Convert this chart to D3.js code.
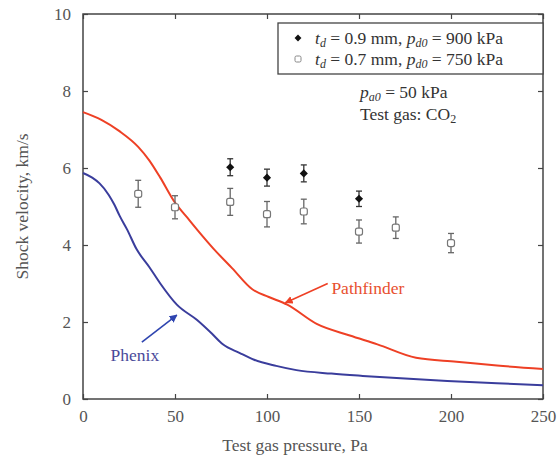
<!DOCTYPE html>
<html>
<head>
<meta charset="utf-8">
<script src="https://cdn.jsdelivr.net/npm/d3@7"></script>
<style>
  body { margin: 0; background: #fff; }
  svg { font-family: "Liberation Serif", "DejaVu Serif", serif; }
</style>
</head>
<body>
<svg width="559" height="461"></svg>
<script>
// Pathfinder (red) and Phenix (blue) computed curves
const pathfinderX = [0, 10, 20, 30, 36, 42, 50, 56, 62, 71, 81, 92, 101, 111, 127, 145, 160, 181, 203, 225, 250];
const pathfinderY = [7.45, 7.25, 6.95, 6.55, 6.2, 5.75, 5.1, 4.75, 4.4, 3.9, 3.4, 2.85, 2.65, 2.45, 1.95, 1.65, 1.42, 1.07, 0.97, 0.87, 0.78];
const phenixX = [0, 5, 9, 14, 17, 20, 24, 29, 36, 42, 51, 62, 70, 76, 85, 93, 105, 116, 135, 152, 175, 198, 225, 250];
const phenixY = [5.87, 5.75, 5.6, 5.3, 5.05, 4.75, 4.4, 3.9, 3.43, 3.0, 2.45, 2.05, 1.7, 1.42, 1.2, 1.02, 0.86, 0.75, 0.66, 0.6, 0.53, 0.47, 0.41, 0.36];

// Experiments
const thickX = [80, 100, 120, 150];
const thickY = [6.02, 5.75, 5.86, 5.2];
const thickErr = [0.22, 0.22, 0.22, 0.2];
const thinX = [30, 50, 80, 100, 120, 150, 170, 200];
const thinY = [5.33, 4.98, 5.12, 4.8, 4.87, 4.35, 4.45, 4.05];
const thinErr = [0.35, 0.3, 0.35, 0.33, 0.32, 0.3, 0.28, 0.25];

const xTicks = [0, 50, 100, 150, 200, 250];
const yTicks = [0, 2, 4, 6, 8, 10];

const svg = d3.select('svg');
const padL = 83, padR = 543, padT = 14, padB = 399;

const x = d3.scaleLinear().domain([0, 250]).range([padL, padR]);
const y = d3.scaleLinear().domain([0, 10]).range([padB, padT]);

const labelColor = '#555';
const frameColor = '#444';

// frame
svg.append('rect')
  .attr('x', padL).attr('y', padT)
  .attr('width', padR - padL).attr('height', padB - padT)
  .style('fill', 'none').style('stroke', frameColor).style('stroke-width', 1.5);

// inward ticks on all four sides
svg.append('g').attr('transform', `translate(0,${padB})`)
  .call(d3.axisBottom(x).tickValues(xTicks).tickSize(-5).tickPadding(11).tickFormat(d3.format('d')))
  .call(g => g.select('.domain').remove());
svg.append('g').attr('transform', `translate(0,${padT})`)
  .call(d3.axisTop(x).tickValues(xTicks).tickSize(-5).tickFormat(''))
  .call(g => g.select('.domain').remove());
svg.append('g').attr('transform', `translate(${padL},0)`)
  .call(d3.axisLeft(y).tickValues(yTicks).tickSize(-5).tickPadding(12).tickFormat(d3.format('d')))
  .call(g => g.select('.domain').remove());
svg.append('g').attr('transform', `translate(${padR},0)`)
  .call(d3.axisRight(y).tickValues(yTicks).tickSize(-5).tickFormat(''))
  .call(g => g.select('.domain').remove());

svg.selectAll('.tick line').style('stroke', frameColor).style('stroke-width', 1.2);
svg.selectAll('.tick text')
  .style('font-family', '"Liberation Serif", serif')
  .style('font-size', '17px')
  .style('fill', labelColor);

// axis titles
svg.append('text')
  .attr('x', (padL + padR) / 2 - 18).attr('y', 451)
  .attr('text-anchor', 'middle')
  .style('font-size', '17.5px').style('fill', labelColor)
  .text('Test gas pressure, Pa');
svg.append('text')
  .attr('transform', `translate(28,${(padT + padB) / 2}) rotate(-90)`)
  .attr('text-anchor', 'middle')
  .style('font-size', '17.5px').style('fill', labelColor)
  .text('Shock velocity, km/s');

// curves
const line = d3.line().x(d => x(d[0])).y(d => y(d[1])).curve(d3.curveMonotoneX);
svg.append('path')
  .datum(pathfinderX.map((v, i) => [v, pathfinderY[i]]))
  .attr('d', line)
  .style('fill', 'none').style('stroke', '#ee4025').style('stroke-width', 2);
svg.append('path')
  .datum(phenixX.map((v, i) => [v, phenixY[i]]))
  .attr('d', line)
  .style('fill', 'none').style('stroke', '#3a3d9c').style('stroke-width', 2);

// error bars
function errorBars(xs, ys, es, color) {
  const g = svg.append('g').style('stroke', color).style('stroke-width', 1.3);
  xs.forEach((v, i) => {
    g.append('line').attr('x1', x(v)).attr('x2', x(v)).attr('y1', y(ys[i] - es[i])).attr('y2', y(ys[i] + es[i]));
    g.append('line').attr('x1', x(v) - 3).attr('x2', x(v) + 3).attr('y1', y(ys[i] - es[i])).attr('y2', y(ys[i] - es[i]));
    g.append('line').attr('x1', x(v) - 3).attr('x2', x(v) + 3).attr('y1', y(ys[i] + es[i])).attr('y2', y(ys[i] + es[i]));
  });
}
errorBars(thinX, thinY, thinErr, '#666');
errorBars(thickX, thickY, thickErr, '#333');

svg.append('g').selectAll('rect')
  .data(thinX.map((v, i) => [v, thinY[i]]))
  .join('rect')
  .attr('x', d => x(d[0]) - 3.5).attr('y', d => y(d[1]) - 3.5)
  .attr('width', 7).attr('height', 7).attr('rx', 2)
  .style('fill', '#fff').style('stroke', '#777').style('stroke-width', 1.2);

svg.append('g').selectAll('path')
  .data(thickX.map((v, i) => [v, thickY[i]]))
  .join('path')
  .attr('transform', d => `translate(${x(d[0])},${y(d[1])})`)
  .attr('d', d3.symbol(d3.symbolDiamond2, 42))
  .style('fill', '#111');

// legend
const lg = svg.append('g');
lg.append('rect').attr('x', 278).attr('y', 23).attr('width', padR - 278).attr('height', 51)
  .style('fill', '#fff').style('stroke', frameColor).style('stroke-width', 1.3);
lg.append('path').attr('transform', 'translate(298,38)')
  .attr('d', d3.symbol(d3.symbolDiamond2, 30)).style('fill', '#111');
lg.append('rect').attr('x', 295).attr('y', 56).attr('width', 6).attr('height', 6).attr('rx', 1.5)
  .style('fill', '#fff').style('stroke', '#888');

function legendRow(yy, td, pd) {
  const t = lg.append('text').attr('x', 315).attr('y', yy).style('font-size', '17.5px').style('fill', '#333');
  t.append('tspan').style('font-style', 'italic').text('t');
  t.append('tspan').style('font-style', 'italic').style('font-size', '12px').attr('dy', 3).text('d');
  t.append('tspan').attr('dy', -3).text(` = ${td} mm, `);
  t.append('tspan').style('font-style', 'italic').text('p');
  t.append('tspan').style('font-style', 'italic').style('font-size', '12px').attr('dy', 3).text('d0');
  t.append('tspan').attr('dy', -3).text(` = ${pd} kPa`);
}
legendRow(44, '0.9', '900');
legendRow(65, '0.7', '750');

const info = svg.append('text').attr('x', 360).attr('y', 98).style('font-size', '17.5px').style('fill', '#333');
info.append('tspan').style('font-style', 'italic').text('p');
info.append('tspan').style('font-style', 'italic').style('font-size', '12px').attr('dy', 3).text('a0');
info.append('tspan').attr('dy', -3).text(' = 50 kPa');
const info2 = svg.append('text').attr('x', 360).attr('y', 120).style('font-size', '17.5px').style('fill', '#333');
info2.append('tspan').text('Test gas: CO');
info2.append('tspan').style('font-size', '12px').attr('dy', 3).text('2');

// annotations
svg.append('defs').selectAll('marker')
  .data([['arrRed', '#ee4025'], ['arrBlue', '#2f45b0']])
  .join('marker')
  .attr('id', d => d[0])
  .attr('viewBox', '0 0 10 10').attr('refX', 9).attr('refY', 5)
  .attr('markerWidth', 5).attr('markerHeight', 5).attr('orient', 'auto')
  .append('path').attr('d', 'M0,0 L10,5 L0,10 z').style('fill', d => d[1]);

svg.append('line')
  .attr('x1', x(133)).attr('y1', y(3.0)).attr('x2', x(110)).attr('y2', y(2.5))
  .style('stroke', '#ee4025').style('stroke-width', 1.6).attr('marker-end', 'url(#arrRed)');
svg.append('text').attr('x', x(135)).attr('y', y(2.72))
  .style('font-size', '17.5px').style('fill', '#e8502f').text('Pathfinder');

svg.append('line')
  .attr('x1', x(32)).attr('y1', y(1.48)).attr('x2', x(51)).attr('y2', y(2.18))
  .style('stroke', '#2f45b0').style('stroke-width', 1.6).attr('marker-end', 'url(#arrBlue)');
svg.append('text').attr('x', x(15)).attr('y', y(1.0))
  .style('font-size', '17.5px').style('fill', '#4a4a9a').text('Phenix');
</script>
</body>
</html>
